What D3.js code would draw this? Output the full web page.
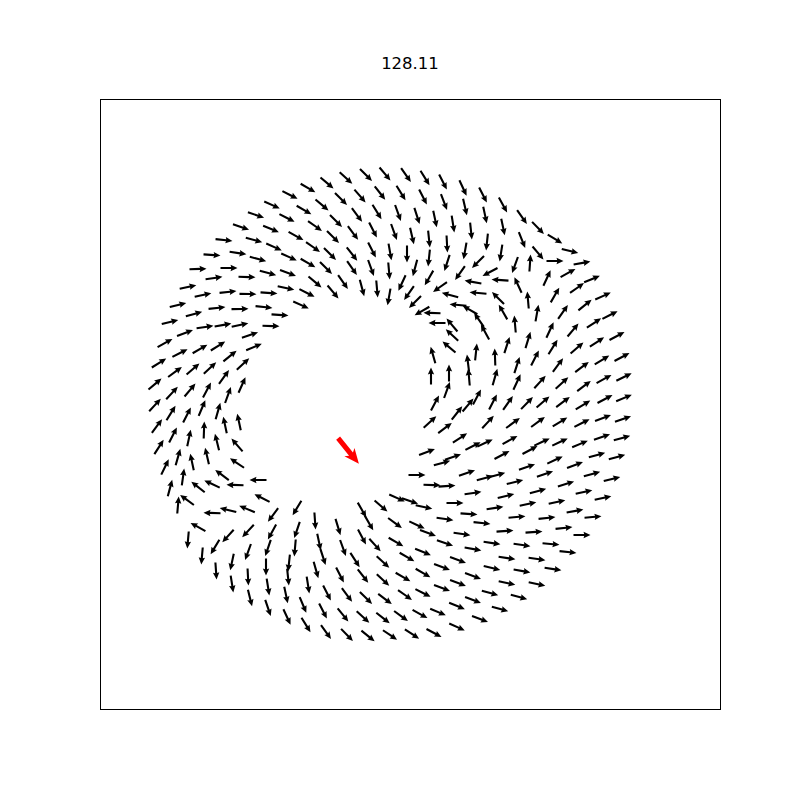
<!DOCTYPE html>
<html><head><meta charset="utf-8">
<script src="https://cdn.jsdelivr.net/npm/d3@7"></script>
<style>body{margin:0;background:#fff}</style>
</head><body>
<svg id="chart" width="800" height="800"></svg>
<script>
const title = "128.11";
const xDomain = [0, 620];
const yDomain = [0, 610];
// [x, y, direction in degrees] for each agent (arrow centre)
const agents = [
[208,521,-30],[190,514,-27],[204,499,-30],[172,504,-24],[156,494,-18],[187,491,-27],[141,482,-19],[171,480,-22],[196,473,-29],[124,469,-6],
[154,469,-15],[174,462,-24],[112,454,-4],[138,456,-9],[158,450,-15],[189,452,-24],[208,446,-30],[98,440,2],[129,441,0],[168,436,-15],
[188,436,-20],[114,431,8],[147,432,-2],[88,422,12],[186,421,-12],[207,416,-27],[103,414,12],[128,417,6],[148,415,-1],[169,416,-4],
[78,404,14],[94,395,16],[117,401,6],[140,400,1],[164,402,-6],[180,394,-4],[201,404,-24],[70,387,14],[105,382,8],[123,384,10],
[140,384,12],[171,383,-2],[85,376,20],[150,374,18],[65,366,29],[80,356,27],[100,360,30],[118,363,32],[154,362,23],[59,346,32],
[75,337,36],[93,340,41],[110,341,43],[130,353,39],[143,345,43],[55,325,40],[72,316,47],[90,319,50],[107,319,62],[124,332,54],
[142,324,66],[55,304,47],[71,296,58],[87,294,63],[102,301,67],[118,298,74],[128,314,70],[57,283,53],[73,274,63],[89,271,78],
[104,279,88],[125,284,102],[139,287,102],[117,267,104],[137,264,131],[59,262,57],[78,252,74],[92,247,102],[107,253,103],[137,246,146],
[65,242,64],[83,232,82],[122,234,143],[158,229,180],[70,221,75],[98,222,142],[112,225,155],[135,224,178],[78,204,85],[87,209,144],
[112,196,178],[128,199,167],[147,200,157],[162,211,153],[98,182,151],[88,169,-95],[173,194,-127],[197,201,-121],[128,173,-132],[115,162,-121],
[148,178,-133],[172,177,-119],[197,179,-109],[102,153,-95],[132,147,-102],[148,157,-110],[168,161,-109],[195,161,-95],[189,146,-96],[116,138,-86],
[166,142,-90],[148,132,-87],[188,132,-84],[132,125,-81],[168,122,-81],[208,124,-81],[186,114,-78],[150,111,-76],[168,101,-71],[203,104,-67],
[187,92,-65],[206,84,-58],
[332,224,-2],[347,223,4],[373,216,8],[297,211,-24],[310,208,-18],[324,202,-12],[355,206,0],[369,195,-4],[281,203,-41],[215,188,-86],
[238,182,-73],[262,199,-60],[269,186,-60],[295,186,-36],[317,184,-25],[328,176,-20],[345,190,-8],[362,175,-8],[219,167,-78],[223,152,-72],
[243,161,-70],[262,172,-62],[275,164,-48],[296,167,-30],[323,157,-22],[345,166,-18],[373,160,-10],[255,149,-57],[283,147,-42],[307,152,-30],
[342,142,-21],[358,149,-20],[216,139,-74],[240,134,-63],[263,133,-52],[283,129,-43],[303,132,-30],[323,136,-30],[373,133,-20],[358,126,-21],
[227,116,-63],[247,114,-53],[266,111,-44],[285,110,-37],[305,114,-35],[323,116,-27],[342,121,-20],[373,109,-21],[357,103,-22],[223,98,-63],
[243,94,-51],[263,92,-42],[283,91,-38],[301,93,-36],[320,95,-29],[338,97,-23],[226,77,-54],[247,74,-46],[268,73,-39],[290,74,-34],
[312,75,-33],[334,76,-28],[357,82,-24],
[415,227,14],[466,225,17],[406,213,13],[438,218,16],[484,217,12],[395,201,9],[428,205,12],[457,207,12],[475,198,10],[503,211,12],
[417,192,5],[447,191,6],[493,192,5],[382,186,-6],[405,178,4],[434,177,4],[464,181,6],[482,174,0],[392,166,-9],[422,164,-8],
[451,165,-5],[468,157,-6],[407,151,-9],[437,150,-8],[453,140,-9],[392,141,-13],[422,138,-10],[407,126,-12],[437,125,-12],[390,116,-16],
[419,112,-15],[400,100,-16],[380,90,-20],
[385,377,119],[415,385,95],[450,379,65],[473,379,50],[494,386,33],[395,352,92],[407,364,72],[428,369,73],[453,362,58],[477,361,41],
[497,367,33],[517,373,28],[417,344,72],[435,351,63],[458,344,53],[482,342,37],[502,349,31],[522,352,28],[395,332,74],[417,327,65],
[440,327,48],[462,326,42],[484,323,37],[504,330,29],[524,332,26],[393,307,63],[408,306,55],[427,306,46],[443,307,41],[463,307,37],
[483,304,31],[505,310,28],[524,311,23],[388,287,47],[413,286,36],[438,287,36],[460,287,31],[482,286,27],[503,291,20],[523,290,19],
[385,266,25],[410,269,29],[430,259,28],[442,267,25],[460,267,25],[480,265,23],[502,272,19],[522,271,15],[402,254,28],[427,242,19],
[455,249,25],[475,244,20],[497,254,16],[517,252,15],[385,231,15],[397,234,15],[445,235,18],[492,235,16],[512,230,14],
[383,514,-63],[403,504,-61],[422,492,-55],[438,481,-46],[455,470,-31],[470,458,-14],[482,446,10],[385,494,-78],[403,482,-78],[422,469,-68],
[438,456,-50],[455,448,0],[387,467,-96],[401,456,-99],[415,444,-110],[430,446,86],[468,436,29],[447,431,65],[492,430,22],[390,437,-152],
[378,447,-135],[400,429,176],[418,424,115],[428,409,95],[455,414,60],[477,421,35],[503,413,24],[378,416,175],[398,411,135],[403,397,120],
[437,396,80],[463,397,55],[485,404,39],[510,394,27],[379,389,125],
[227,526,-40],[246,531,-42],[266,534,-45],[285,535,-50],[306,534,-55],[325,531,-58],[343,527,-63],[363,521,-65],[222,504,-40],[241,510,-45],
[260,513,-49],[280,516,-52],[301,516,-58],[323,512,-63],[344,507,-69],[365,502,-77],[215,483,-35],[236,488,-45],[257,494,-53],[277,497,-58],
[298,496,-70],[317,493,-72],[335,490,-78],[353,485,-81],[371,478,-84],[213,462,-35],[233,472,-45],[253,476,-53],[273,479,-63],[294,477,-70],
[312,473,-77],[329,470,-84],[347,465,-87],[365,458,-100],[230,455,-45],[252,455,-52],[272,459,-63],[290,457,-80],[307,455,-90],[329,451,-96],
[347,446,-108],[226,441,-45],[252,441,-55],[271,441,-70],[289,438,-85],[315,441,-105],[329,431,-120],[360,436,-125],[373,427,170],[215,427,-40],
[243,427,-55],[262,421,-75],[277,420,-85],[289,412,-100],[302,426,-115],[309,416,-125],[340,422,-145],[350,414,165],[233,417,-50],[315,407,-135],
[322,398,-150],[332,396,178],[358,404,175],[370,399,150],[352,384,130],[337,386,180],
[352,374,137],[349,362,140],[333,354,106],[368,346,97],[376,357,84],[331,333,90],[349,336,90],[369,332,95],[347,319,70],[335,306,62],
[377,312,62],[357,296,52],[368,304,50],[330,287,42],[345,281,37],[360,271,33],[373,263,27],[327,257,21],[342,246,16],[353,252,19],
[367,236,19],[317,234,0]
];
// highlighted agent: [x, y, direction in degrees]
const leader = [[248.5, 258, -51]];

const svg = d3.select("#chart");
const box = {left: 100, top: 99, width: 620, height: 610};
const x = d3.scaleLinear().domain(xDomain).range([box.left, box.left + box.width]);
const y = d3.scaleLinear().domain(yDomain).range([box.top + box.height, box.top]);

svg.append("rect").attr("width", 800).attr("height", 800).attr("fill", "#fff");

function arrowPath(L, w, hl, hw, ha) {
  const t = -L / 2, p = L / 2;
  const pts = [[t, -w/2], [p - ha, -w/2], [p - hl, -hw/2], [p, 0], [p - hl, hw/2], [p - ha, w/2], [t, w/2]];
  return "M" + pts.map(d => d[0].toFixed(2) + "," + d[1].toFixed(2)).join("L") + "Z";
}
const smallArrow = arrowPath(17, 2.1, 7, 6.4, 6.3);
const bigArrow = arrowPath(33, 5, 15, 13, 12.5);

const g = svg.append("g");
g.selectAll("path.agent").data(agents).join("path")
  .attr("class", "agent")
  .attr("d", smallArrow)
  .attr("fill", "#000")
  .attr("transform", d => `translate(${x(d[0])},${y(d[1])}) rotate(${-d[2]})`);

g.selectAll("path.leader").data(leader).join("path")
  .attr("class", "leader")
  .attr("d", bigArrow)
  .attr("fill", "#ff0000")
  .attr("transform", d => `translate(${x(d[0])},${y(d[1])}) rotate(${-d[2]})`);

svg.append("rect")
  .attr("x", x(xDomain[0]) + 0.5).attr("y", y(yDomain[1]) + 0.5)
  .attr("width", x(xDomain[1]) - x(xDomain[0]))
  .attr("height", y(yDomain[0]) - y(yDomain[1]))
  .attr("fill", "none").attr("stroke", "#000").attr("stroke-width", 1);

svg.append("text")
  .attr("x", (x(xDomain[0]) + x(xDomain[1])) / 2)
  .attr("y", 69)
  .attr("text-anchor", "middle")
  .attr("font-family", "DejaVu Sans, sans-serif")
  .attr("font-size", "16.5px")
  .attr("fill", "#000")
  .text(title);
</script>
</body></html>
